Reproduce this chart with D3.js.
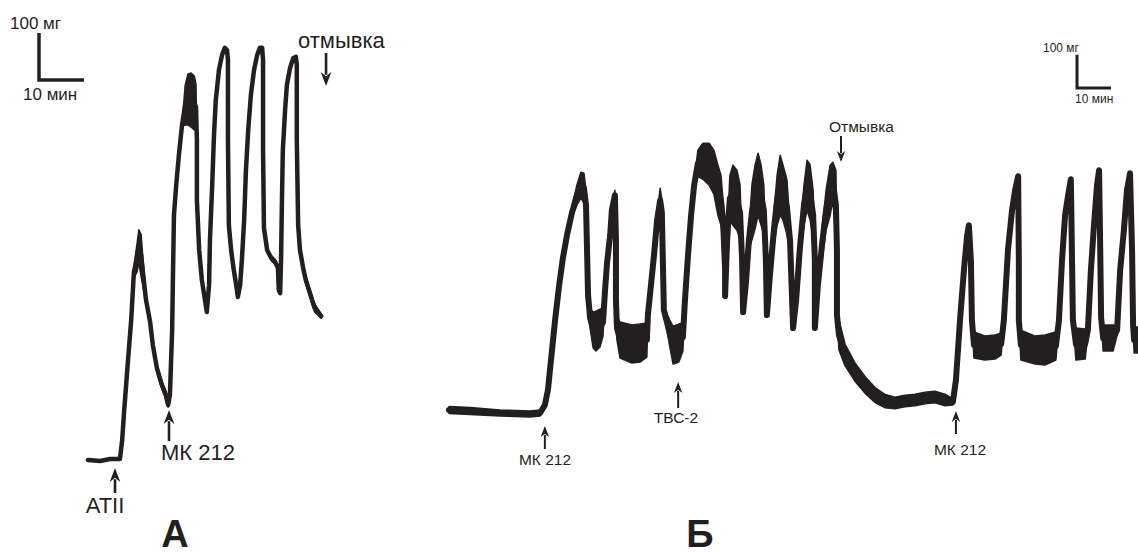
<!DOCTYPE html>
<html>
<head>
<meta charset="utf-8">
<script src="https://cdn.jsdelivr.net/npm/d3@7"></script>
<style>
  html, body { margin: 0; padding: 0; background: #fff; }
  svg { display: block; }
  text { font-family: "Liberation Sans", Arial, sans-serif; fill: #231f20; }
</style>
</head>
<body>
<script>
// panel A: time (min), tension (mg), width of noise band (mg)
const aTime = [0,2.7,4.9,7.1,7.6,8.0,8.9,9.6,10.2,10.9,11.3,11.8,12.2,12.9,13.8,14.4,15.3,16.4,17.3,17.8,18.2,18.7,18.9,19.1,19.6,20.2,20.9,21.6,22.2,22.9,23.6,24.0,24.2,24.2,24.7,25.3,26.0,26.4,26.9,27.1,27.6,28.0,28.4,29.1,29.8,30.4,30.9,31.1,31.1,31.3,31.8,32.4,33.1,33.3,33.8,34.2,34.7,35.1,35.6,36.2,36.9,37.6,38.2,38.7,38.9,38.9,39.1,39.8,40.7,41.6,42.2,42.4,42.7,42.9,43.1,43.3,43.8,44.2,44.9,45.6,46.2,46.4,46.4,46.7,47.1,47.8,48.4,49.1,49.8,50.4,51.1,51.8]
const aForce = [0,-2,2,2,43,100,213,298,400,430,455,435,400,340,294,245,196,160,138,117,138,277,404,521,585,649,713,755,767,766,760,751,681,553,447,383,340,315,372,468,585,692,766,830,862,877,872,851,681,500,447,404,362,347,372,426,511,617,702,777,830,862,877,877,851,660,494,447,430,421,409,362,355,426,553,660,745,798,834,855,858,841,681,500,447,409,383,362,340,323,315,306]
const aNoise = [0,0,0,0,0,0,0,0,25,60,70,90,60,20,11,13,17,17,17,9,4,0,0,0,0,0,4,85,108,115,115,96,9,0,0,4,4,0,0,0,0,0,0,0,0,0,0,0,0,0,4,6,6,0,0,0,0,0,0,0,0,0,0,0,0,0,0,6,11,11,6,0,0,0,0,0,0,0,0,0,0,0,0,0,6,11,17,17,17,17,13,9]

// panel Б
const bTime = [0,6.2,15.0,23.8,26.8,28.2,29.1,30.0,31.2,32.4,
    33.5,34.7,36.2,37.6,38.8,39.7,40.3,40.6,40.9,41.5,
    42.4,43.2,44.4,45.3,45.9,46.5,47.4,47.9,48.8,49.1,
    49.1,49.4,50.3,53.8,56.2,58.2,58.5,59.4,60.3,61.2,
    62.1,62.6,62.9,63.2,64.9,65.9,67.6,68.8,69.4,70.3,
    71.2,72.1,73.2,74.7,76.5,77.9,79.1,80.0,80.6,81.2,
    81.2,81.8,82.6,83.5,84.7,85.6,86.2,86.5,87.4,88.2,
    89.1,90.0,90.9,91.8,92.6,93.2,93.5,94.4,95.6,96.5,
    97.4,98.2,99.4,100.3,101.2,102.1,103.2,104.4,105.3,106.2,
    107.1,107.6,107.6,108.5,109.7,110.9,112.1,112.9,113.8,114.1,
    114.1,114.7,116.5,119.4,122.4,125.3,128.2,131.2,134.1,137.1,
    140.0,142.9,145.9,148.2,149.1,150.3,151.5,152.4,152.9,153.5,
    153.8,154.4,157.6,160.6,162.4,163.2,164.4,165.6,166.5,167.4,
    167.6,167.6,168.2,172.4,175.3,178.5,179.4,180.3,181.2,182.1,
    182.9,183.2,183.5,184.4,187.1,187.9,188.8,189.7,190.6,191.2,
    191.5,191.8,192.4,195.3,196.5,197.4,198.5,199.4,200.3,200.9,
    201.2,201.5,202.6]
const bForce = [0,-3,-9,-12,-9,15,60,150,270,375,
    456,525,594,645,675,666,615,480,345,276,
    240,237,246,264,360,444,525,600,645,510,
    330,246,210,198,201,210,285,375,465,570,
    630,594,450,300,231,195,201,219,330,465,
    585,675,741,747,738,714,660,630,570,420,
    342,510,636,645,630,594,450,294,390,510,
    594,639,678,645,600,450,285,405,546,630,
    675,654,609,510,246,330,486,615,675,654,
    585,450,246,375,495,600,660,687,615,480,
    285,225,165,114,75,45,27,21,27,30,
    36,39,30,24,90,270,426,525,555,450,
    270,195,186,189,198,270,480,600,660,702,
    450,270,195,180,180,192,270,450,585,645,
    693,480,270,198,198,240,420,555,675,720,
    510,276,216,216,240,420,540,660,711,480,
    255,210,210]
const bNoise = [21,21,18,18,18,15,12,12,12,12,
    15,18,30,60,78,90,90,18,12,60,
    108,120,114,84,12,12,18,24,30,0,
    9,72,108,114,114,102,18,15,18,42,
    72,78,18,18,78,114,114,84,12,12,
    15,30,78,108,126,132,150,150,120,30,
    12,24,135,180,180,165,60,12,24,60,
    165,192,186,180,150,48,12,24,105,150,
    180,165,165,90,12,24,75,120,150,165,
    150,60,12,24,90,120,150,114,210,30,
    18,90,65,55,50,45,40,35,35,35,
    35,35,35,18,12,12,12,12,9,9,
    12,78,72,72,66,18,15,18,18,9,
    0,12,90,84,90,84,12,15,18,18,
    9,0,12,96,90,30,12,15,15,9,
    0,12,78,78,30,15,18,18,9,0,
    12,78,78]

// markers
const aMarks = [{label: "ATII", t: 6.0}, {label: "МК 212", t: 18.0}, {label: "отмывка", t: 52.9}]
const bMarks = [{label: "МК 212", t: 28.2}, {label: "ТВС-2", t: 67.4}, {label: "Отмывка", t: 115.3}, {label: "МК 212", t: 149.1}]

const ink = "#231f20"
const W = 1138, H = 552

const svg = d3.select("body").append("svg").attr("width", W).attr("height", H)

// 10 min = 45 px, 100 mg = 47 px (A); 10 min = 34 px, 100 mg = 33.3 px (Б)
const xA = d3.scaleLinear().domain([0, 10]).range([88, 133])
const yA = d3.scaleLinear().domain([0, 100]).range([460, 413])
const xB = d3.scaleLinear().domain([0, 10]).range([449, 483])
const yB = d3.scaleLinear().domain([0, 100]).range([410, 376.7])

function drawTrace(time, force, noise, x, y, lw) {
    const pts = time.map((t, i) => ({t, v: force[i], n: noise[i]}))
    svg.append("path")
        .datum(pts)
        .attr("fill", ink)
        .attr("stroke", ink)
        .attr("stroke-width", 1.5)
        .attr("stroke-linejoin", "round")
        .attr("d", d3.area().x(d => x(d.t)).y0(d => y(d.v - d.n / 2)).y1(d => y(d.v + d.n / 2)))
    svg.append("path")
        .datum(pts)
        .attr("fill", "none")
        .attr("stroke", ink)
        .attr("stroke-width", lw)
        .attr("stroke-linejoin", "round")
        .attr("stroke-linecap", "round")
        .attr("d", d3.line().x(d => x(d.t)).y(d => y(d.v)))
}
drawTrace(aTime, aForce, aNoise, xA, yA, 4.5)
drawTrace(bTime, bForce, bNoise, xB, yB, 6)

// arrow: x, tail y, tip y
function arrow(x, y1, y2, head, shaft) {
    const dir = y2 > y1 ? 1 : -1
    svg.append("line")
        .attr("x1", x).attr("x2", x)
        .attr("y1", y1).attr("y2", y2 - dir * head * 0.8)
        .attr("stroke", ink).attr("stroke-width", shaft)
    svg.append("path")
        .attr("fill", ink)
        .attr("d", `M${x},${y2} L${x - head * 0.38},${y2 - dir * head} L${x},${y2 - dir * head * 0.7} L${x + head * 0.38},${y2 - dir * head} Z`)
}

// A annotations
const aLay = [
    {tail: 493, tip: 468, tx: 105, ty: 513, anchor: "middle"},
    {tail: 441, tip: 410, tx: 161, ty: 460, anchor: "start"},
    {tail: 53, tip: 86, tx: 298, ty: 48, anchor: "start"}
]
aMarks.forEach((m, i) => {
    const L = aLay[i]
    arrow(xA(m.t), L.tail, L.tip, 14, 2.6)
    svg.append("text").attr("x", L.tx).attr("y", L.ty)
        .attr("text-anchor", L.anchor).attr("font-size", 22).text(m.label)
})

// Б annotations
const bLay = [
    {tail: 449, tip: 426, tx: 545, ty: 465, anchor: "middle"},
    {tail: 408, tip: 382, tx: 676, ty: 423, anchor: "middle"},
    {tail: 136, tip: 162, tx: 829, ty: 132, anchor: "start"},
    {tail: 434, tip: 411, tx: 960, ty: 455, anchor: "middle"}
]
bMarks.forEach((m, i) => {
    const L = bLay[i]
    arrow(xB(m.t), L.tail, L.tip, 11, 2)
    svg.append("text").attr("x", L.tx).attr("y", L.ty)
        .attr("text-anchor", L.anchor).attr("font-size", 15.5).text(m.label)
})

// scale bars
function scaleBar(x0, y0, x, y, lw) {
    const h = y(0) - y(100), w = x(10) - x(0)
    svg.append("path")
        .attr("fill", "none").attr("stroke", ink).attr("stroke-width", lw)
        .attr("d", `M${x0},${y0 - h} V${y0} H${x0 + w}`)
}
scaleBar(39, 80, xA, yA, 3.5)
svg.append("text").attr("x", 10).attr("y", 29).attr("font-size", 17).text("100 мг")
svg.append("text").attr("x", 23).attr("y", 100).attr("font-size", 17).text("10 мин")

scaleBar(1077, 88, xB, yB, 3)
svg.append("text").attr("x", 1043).attr("y", 52).attr("font-size", 12).text("100 мг")
svg.append("text").attr("x", 1075).attr("y", 103).attr("font-size", 12).text("10 мин")

// panel letters
svg.append("text").attr("x", 175).attr("y", 547).attr("text-anchor", "middle")
    .attr("font-size", 38).attr("font-weight", "bold").text("А")
svg.append("text").attr("x", 700).attr("y", 547).attr("text-anchor", "middle")
    .attr("font-size", 38).attr("font-weight", "bold").text("Б")
</script>
</body>
</html>
